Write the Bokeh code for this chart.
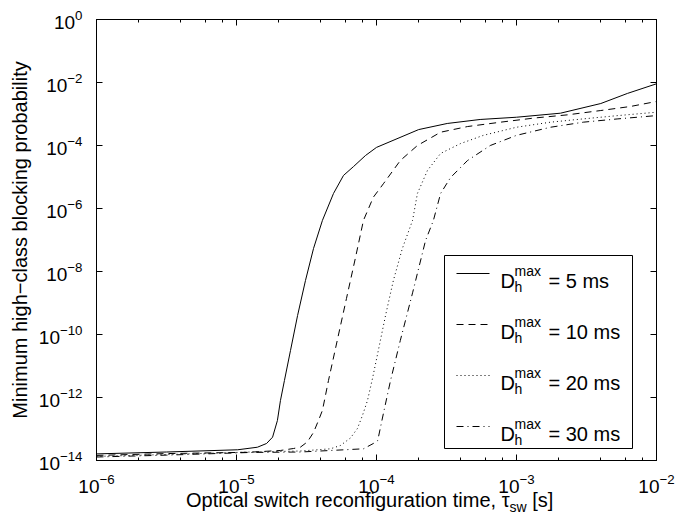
from bokeh.plotting import figure
from bokeh.models import (Range1d, LogAxis, FixedTicker, LogTicker, Label,
                          BoxAnnotation, Arrow, Div)
from bokeh.layouts import column
from bokeh.embed import file_html
from bokeh.resources import INLINE

# ---- data (x: reconfiguration time [s], y: blocking prob.) ----
x_5ms = [1e-6, 3.16e-6, 1.02e-5, 1.41e-5, 1.64e-5, 1.81e-5, 1.96e-5, 2.06e-5, 2.20e-5,
         2.43e-5, 2.73e-5, 3.11e-5, 3.55e-5, 4.11e-5, 4.93e-5, 5.81e-5, 6.85e-5, 8.34e-5,
         1.0e-4, 2.0e-4, 3.2e-4, 5.5e-4, 1.0e-3, 2.06e-3, 4.0e-3, 6.2e-3, 1e-2]
y_5ms = [1.62e-14, 1.86e-14, 2.19e-14, 2.64e-14, 3.47e-14, 5.5e-14, 1.86e-13, 8.0e-13, 3.47e-12,
         3.1e-11, 4.0e-10, 5.2e-9, 5.4e-8, 4.2e-7, 3.0e-6, 1.12e-5, 2.14e-5, 4.8e-5,
         8.7e-5, 3.2e-4, 5.0e-4, 6.7e-4, 7.9e-4, 1.06e-3, 2.15e-3, 4.5e-3, 9.1e-3]

x_10ms = [1e-6, 3.16e-6, 1.2e-5, 2.06e-5, 2.55e-5, 2.86e-5, 3.21e-5, 3.55e-5, 3.85e-5,
          4.11e-5, 4.54e-5, 5.26e-5, 6.1e-5, 7.08e-5, 8.07e-5, 9.5e-5, 1.12e-4, 1.48e-4,
          1.96e-4, 2.87e-4, 4.47e-4, 7.7e-4, 1.32e-3, 2.31e-3, 4.0e-3, 6.5e-3, 1e-2]
y_10ms = [1.45e-14, 1.66e-14, 1.82e-14, 2.08e-14, 2.4e-14, 2.65e-14, 3.9e-14, 7.8e-14, 1.86e-13,
          3.9e-13, 3.47e-12, 6.9e-11, 1.38e-9, 2.77e-8, 4.2e-7, 2.29e-6, 6.1e-6, 3.34e-5,
          1.0e-4, 2.64e-4, 4.0e-4, 5.5e-4, 7.4e-4, 9.4e-4, 1.29e-3, 1.73e-3, 2.5e-3]

x_20ms = [1e-6, 3.16e-6, 1.26e-5, 2.86e-5, 4.69e-5, 5.53e-5, 6.52e-5, 7.31e-5, 7.94e-5,
          8.62e-5, 9.36e-5, 1.03e-4, 1.16e-4, 1.32e-4, 1.53e-4, 1.81e-4, 1.96e-4, 2.31e-4,
          2.87e-4, 3.98e-4, 5.8e-4, 1.0e-3, 1.75e-3, 3.0e-3, 5.3e-3, 1e-2]
y_20ms = [1.35e-14, 1.55e-14, 1.86e-14, 2.0e-14, 2.35e-14, 3.0e-14, 5.2e-14, 1.04e-13, 2.7e-13,
          8.0e-13, 4.0e-12, 3.1e-11, 4.0e-10, 5.2e-9, 5.4e-8, 4.2e-7, 3.0e-6, 1.6e-5,
          5.6e-5, 1.15e-4, 2.1e-4, 3.8e-4, 5.5e-4, 7.0e-4, 8.9e-4, 1.14e-3]

x_30ms = [1e-6, 3.16e-6, 1.26e-5, 2.86e-5, 8.07e-5, 9.5e-5, 1.02e-4, 1.12e-4, 1.26e-4,
          1.48e-4, 1.81e-4, 2.24e-4, 2.55e-4, 2.87e-4, 3.38e-4, 4.47e-4, 6.5e-4, 1.0e-3,
          1.75e-3, 3.0e-3, 5.3e-3, 1e-2]
y_30ms = [1.29e-14, 1.48e-14, 1.8e-14, 1.86e-14, 2.35e-14, 3.47e-14, 4.3e-14, 3.1e-13, 3.47e-12,
          6.5e-11, 2.1e-9, 9.6e-8, 4.2e-7, 3.0e-6, 9.6e-6, 3.34e-5, 1.0e-4, 2.1e-4,
          3.8e-4, 5.5e-4, 7.0e-4, 8.9e-4]

legend_values = ["5 ms", "10 ms", "20 ms", "30 ms"]
y_tick_values = [1e-14, 1e-12, 1e-10, 1e-8, 1e-6, 1e-4, 1e-2, 1e0]

FONT = "Liberation Sans"

p = figure(width=694, height=495, x_axis_type="log", y_axis_type="log",
           x_range=Range1d(1e-6, 1e-2), y_range=Range1d(1e-14, 1),
           output_backend="svg", toolbar_location=None,
           min_border_left=96, min_border_right=38, min_border_top=19, min_border_bottom=35)
p.grid.visible = False
p.outline_line_color = "black"
p.outline_line_width = 1
p.background_fill_color = "white"
p.border_fill_color = "white"

yticker = FixedTicker(ticks=y_tick_values, minor_ticks=[])
xticker = LogTicker()

def style_axis(ax, labels=True):
    ax.axis_line_color = "black"
    ax.major_tick_line_color = "black"
    ax.minor_tick_line_color = "black"
    ax.major_tick_in = 6
    ax.major_tick_out = 0
    ax.minor_tick_in = 3
    ax.minor_tick_out = 0
    ax.major_label_text_font = FONT
    ax.major_label_text_color = "black"
    if labels:
        ax.major_label_text_font_size = "19px"
    else:
        ax.major_label_text_font_size = "1px"
        ax.major_label_text_alpha = 0.0
        ax.major_label_standoff = 0

p.yaxis.ticker = yticker
p.xaxis.ticker = xticker
style_axis(p.xaxis[0])
style_axis(p.yaxis[0])
p.xaxis.major_label_standoff = 13
p.yaxis.major_label_standoff = 14
p.yaxis.axis_label = "Minimum high\u2212class blocking probability"
p.yaxis.axis_label_text_font = FONT
p.yaxis.axis_label_text_font_size = "20px"
p.yaxis.axis_label_text_font_style = "normal"
p.yaxis.axis_label_text_color = "black"
p.yaxis.axis_label_standoff = 5

ry = LogAxis(ticker=yticker)
style_axis(ry, labels=False)
p.add_layout(ry, "right")
tx = LogAxis(ticker=xticker)
style_axis(tx, labels=False)
p.add_layout(tx, "above")

series = [(x_5ms, y_5ms, "solid"), (x_10ms, y_10ms, "7 5"),
          (x_20ms, y_20ms, "1 3"), (x_30ms, y_30ms, "7 4 1 4")]
for xs, ys, dash in series:
    p.line(xs, ys, line_color="black", line_width=1, line_dash=dash)

lab_kw = dict(x_units="screen", y_units="screen", text_font=FONT, text_color="black",
              text_baseline="alphabetic")

# legend box (screen units relative to the plot frame)
p.add_layout(BoxAnnotation(left=348, right=536, bottom=12, top=205,
                           left_units="screen", right_units="screen",
                           top_units="screen", bottom_units="screen",
                           fill_color="white", fill_alpha=1.0,
                           line_color="black", line_width=1, line_alpha=1.0))
for i, (lv, (_, _, dash)) in enumerate(zip(legend_values, series)):
    yc = 187 - 51 * i
    p.add_layout(Arrow(end=None, x_start=360, x_end=393, y_start=yc, y_end=yc,
                       start_units="screen", end_units="screen",
                       line_color="black", line_width=1, line_dash=dash))
    p.add_layout(Label(x=404, y=yc - 7, text="D", text_font_size="20px", **lab_kw))
    p.add_layout(Label(x=418, y=yc - 13, text="h", text_font_size="14px", **lab_kw))
    p.add_layout(Label(x=418, y=yc + 3, text="max", text_font_size="14px", **lab_kw))
    p.add_layout(Label(x=452, y=yc - 7, text="= " + lv, text_font_size="20px", **lab_kw))

# x-axis label (with subscript) as real text below the figure
xlabel = Div(text='Optical switch reconfiguration time, \u03c4'
                  '<span style="font-size:14px;position:relative;top:5px;">sw</span> [s]',
             width=508, height=19, margin=(0, 0, 0, 186),
             styles={"font-family": FONT, "font-size": "20px", "line-height": "10px",
                     "color": "black", "white-space": "nowrap", "overflow": "visible"})

layout = column(p, xlabel, spacing=0)
html = file_html(layout, INLINE)
html = html.replace("</head>", "<style>html,body{overflow:hidden}</style></head>", 1)
open("out.html", "w").write(html)
